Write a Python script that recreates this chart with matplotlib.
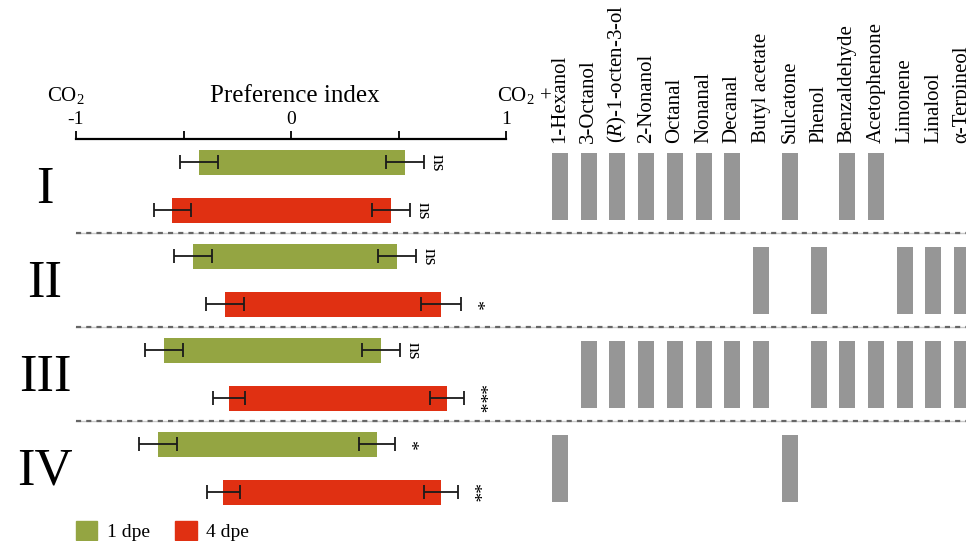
import numpy as np
import matplotlib
matplotlib.use("Agg")
import matplotlib.pyplot as plt
from matplotlib.patches import Patch

plt.rcParams['font.family'] = ['Liberation Serif', 'DejaVu Serif']
plt.rcParams['mathtext.fontset'] = 'custom'
plt.rcParams['mathtext.rm'] = 'Liberation Serif'
plt.rcParams['mathtext.it'] = 'Liberation Serif:italic'

# blends tested against CO2 alone
blends = ['I', 'II', 'III', 'IV']

# preference index ends: CO2 side (negative) and CO2 + blend side (positive)
left_1dpe = [-0.428, -0.456, -0.591, -0.619]
right_1dpe = [0.530, 0.493, 0.419, 0.400]
left_4dpe = [-0.553, -0.307, -0.288, -0.316]
right_4dpe = [0.465, 0.698, 0.726, 0.698]

# standard errors at each end
errL_1dpe = [0.088, 0.090, 0.087, 0.088]
errR_1dpe = [0.090, 0.090, 0.087, 0.086]
errL_4dpe = [0.086, 0.090, 0.076, 0.077]
errR_4dpe = [0.088, 0.095, 0.078, 0.079]

sig_1dpe = ['ns', 'ns', 'ns', '*']
sig_4dpe = ['ns', '*', '***', '**']

compounds = ['1-Hexanol', '3-Octanol', r'($\mathit{R}$)-1-octen-3-ol', '2-Nonanol',
             'Octanal', 'Nonanal', 'Decanal', 'Butyl acetate', 'Sulcatone', 'Phenol',
             'Benzaldehyde', 'Acetophenone', 'Limonene', 'Linalool', 'α-Terpineol']

# 1 = compound present in the blend
composition = [
    [1, 1, 1, 1, 1, 1, 1, 0, 1, 0, 1, 1, 0, 0, 0],
    [0, 0, 0, 0, 0, 0, 0, 1, 0, 1, 0, 0, 1, 1, 1],
    [0, 1, 1, 1, 1, 1, 1, 1, 0, 1, 1, 1, 1, 1, 1],
    [1, 0, 0, 0, 0, 0, 0, 0, 1, 0, 0, 0, 0, 0, 0],
]

green = '#94a542'
red = '#e03012'
grey = '#969696'

W, H = 966, 541
fig = plt.figure(figsize=(W / 100, H / 100), dpi=100)
top = 139
ylim = (4.027, -0.25)

# left panel: preference index bars
ax = fig.add_axes([76 / W, 0, 430 / W, (H - top) / H])
ax.patch.set_alpha(0)
g = np.arange(len(blends))
bh = 0.266
rows = [(g, left_1dpe, right_1dpe, errL_1dpe, errR_1dpe, sig_1dpe, green),
        (g + 0.51, left_4dpe, right_4dpe, errL_4dpe, errR_4dpe, sig_4dpe, red)]
for yy, lo, hi, eL, eR, sig, col in rows:
    ax.barh(yy, np.subtract(hi, lo), left=lo, height=bh, color=col)
    ax.errorbar(lo, yy, xerr=eL, fmt='none', ecolor='#1a1a1a', elinewidth=1.3,
                capsize=5, capthick=1.3)
    ax.errorbar(hi, yy, xerr=eR, fmt='none', ecolor='#1a1a1a', elinewidth=1.3,
                capsize=5, capthick=1.3)
    for x, e, y, s in zip(hi, eR, yy, sig):
        ax.annotate(s, (x + e, y), xytext=(9.5, 0), textcoords='offset points',
                    ha='center', va='center', rotation=270, fontsize=14)

ax.set_xlim(-1, 1)
ax.set_ylim(*ylim)
for s in ['left', 'right', 'bottom']:
    ax.spines[s].set_visible(False)
ax.spines['top'].set_linewidth(1.6)
ax.xaxis.tick_top()
ax.set_xticks([-1, -0.5, 0, 0.5, 1])
ax.set_xticklabels(['-1', '', '0', '', '1'])
ax.tick_params(axis='x', direction='out', length=6, width=1.3, labelsize=14, pad=2)
ax.set_yticks([])

# separators between blends, running under both panels
span = (W - 76) / 430
for yd in g[:-1] + 0.755:
    ax.plot([0, span], [yd, yd], transform=ax.get_yaxis_transform(),
            color='#c8c8c8', lw=1.0, clip_on=False)
    ax.plot([0, span], [yd, yd], transform=ax.get_yaxis_transform(),
            color='#666666', lw=1.6, ls=(0, (2.3, 2.3)), clip_on=False)

for i, name in enumerate(blends):
    ax.text(-0.072, i + 0.43, name, transform=ax.get_yaxis_transform(),
            ha='center', va='baseline', fontsize=38)

fig.text(66 / W, 1 - 101 / H, r'CO$_2$', ha='center', va='baseline', fontsize=15)
fig.text(295 / W, 1 - 102 / H, 'Preference index', ha='center', va='baseline', fontsize=18)
fig.text(497 / W, 1 - 101 / H, r'CO$_2$ +', ha='left', va='baseline', fontsize=15)

# right panel: blend composition
ax2 = fig.add_axes([545.6 / W, 0, 430.9 / W, (H - top) / H])
ax2.patch.set_alpha(0)
for i, row in enumerate(composition):
    cols = [j for j, v in enumerate(row) if v]
    ax2.bar(cols, 0.713, bottom=i - 0.1, width=0.557, color=grey)
ax2.set_xlim(-0.5, 14.5)
ax2.set_ylim(*ylim)
for s in ax2.spines.values():
    s.set_visible(False)
ax2.xaxis.tick_top()
ax2.set_xticks(range(len(compounds)))
ax2.set_xticklabels(compounds, rotation=90, fontsize=15)
ax2.tick_params(axis='x', length=0, pad=-3)
ax2.set_yticks([])

fig.legend(handles=[Patch(color=green, label='1 dpe'), Patch(color=red, label='4 dpe')],
           loc='upper left', bbox_to_anchor=(76 / W, 1 - 521 / H), ncol=2,
           frameon=False, fontsize=14, handlelength=1.1, handleheight=1.1,
           handletextpad=0.5, columnspacing=1.3, borderpad=0, borderaxespad=0)

fig.savefig('out.png', dpi=100)
